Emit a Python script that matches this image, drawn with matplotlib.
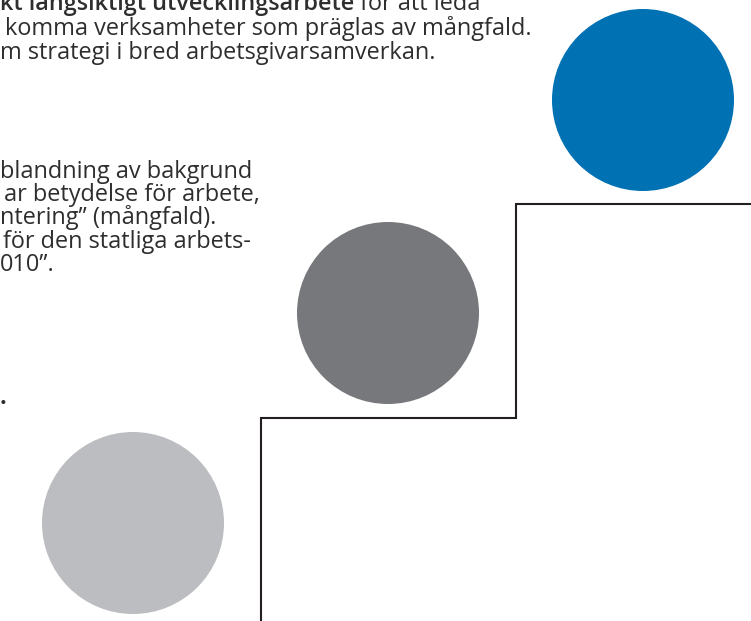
import matplotlib
matplotlib.use("Agg")
import matplotlib.pyplot as plt
from matplotlib.patches import Circle

W, H = 751, 621

# circles: centre x, centre y, radius, colour
circle_x = [643, 388, 133]
circle_y = [100, 313, 523]
circle_r = [91, 91, 91]
circle_c = ["#0071b2", "#77787b", "#bcbdc0"]

# stair line
step_x = [261, 261, 516, 516, 751]
step_y = [621, 418, 418, 204, 204]

# text lines: x, baseline y, text, bold
top_bold = "kt långsiktigt utvecklingsarbete"
top_rest = " för att leda"
lines_x = [5, 0, 0, 4, 0, 3, 0, 0]
lines_y = [35, 59, 178, 201, 224, 248, 271, 404]
lines_t = [
    "komma verksamheter som präglas av mångfald.",
    "m strategi i bred arbetsgivarsamverkan.",
    "blandning av bakgrund",
    "ar betydelse för arbete,",
    "ntering\u201d (mångfald).",
    "för den statliga arbets-",
    "010\u201d.",
    ".",
]
lines_b = [False, False, False, False, False, False, False, True]

TXT = "#2e2e2e"
FONT = "Open Sans"

fig = plt.figure(figsize=(W / 100, H / 100), dpi=100)
ax = fig.add_axes([0, 0, 1, 1])
ax.set_xlim(0, W)
ax.set_ylim(H, 0)
ax.axis("off")

for x, y, r, c in zip(circle_x, circle_y, circle_r, circle_c):
    ax.add_patch(Circle((x, y), r, color=c, lw=0))

ax.plot(step_x, step_y, color="#231f20", lw=1.5, solid_joinstyle="miter")

# fit font size to the long line width (527 px)
fig.canvas.draw()
r = fig.canvas.get_renderer()
probe = ax.text(0, 0, lines_t[0], fontsize=10, family=FONT)
w10 = probe.get_window_extent(r).width
probe.remove()
fs = 10 * 527 / w10

tb = ax.text(0, 10, top_bold, fontsize=fs, family=FONT, weight="semibold",
             color=TXT, va="baseline")
fig.canvas.draw()
bb = tb.get_window_extent(r)
x_end = ax.transData.inverted().transform((bb.x1, bb.y0))[0]
ax.text(x_end, 10, top_rest, fontsize=fs, family=FONT, color=TXT, va="baseline")

for x, y, t, b in zip(lines_x, lines_y, lines_t, lines_b):
    ax.text(x, y, t, fontsize=fs, family=FONT, color=TXT, va="baseline",
            weight="bold" if b else "normal")

fig.savefig("out.png", dpi=100)
